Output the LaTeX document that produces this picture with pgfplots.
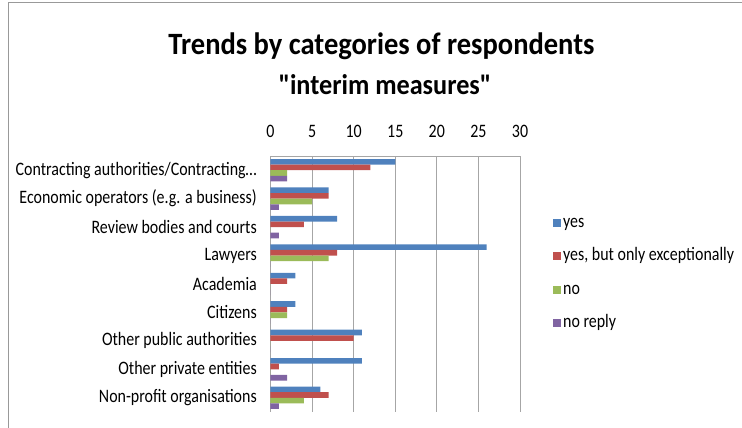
\documentclass[border=0pt]{standalone}
\usepackage{fontspec}
\setmainfont{Carlito}[FakeStretch=0.84]
\newfontfamily\titlefont{Carlito}[FakeStretch=0.92]
\usepackage{pgfplots}
\pgfplotsset{compat=1.18}

\definecolor{cyes}{HTML}{4F81BD}
\definecolor{cexc}{HTML}{C0504D}
\definecolor{cno}{HTML}{9BBB59}
\definecolor{cnorep}{HTML}{8064A2}
\definecolor{gridgray}{HTML}{A6A6A6}

\begin{document}
\begin{tikzpicture}[x=1pt,y=1pt]
  \useasboundingbox (0,0) rectangle (742,-428);
  % chart frame
  \draw[gray!80, line width=1pt] (8.5,-428) -- (8.5,-2.5) -- (742,-2.5);

  \node[anchor=base, font=\titlefont\bfseries\fontsize{31}{33}\selectfont] at (381.5,-55) {Trends by categories of respondents};
  \node[anchor=base, font=\titlefont\bfseries\fontsize{28.5}{30}\selectfont] at (385,-95) {\symbol{34}interim measures\symbol{34}};

  \begin{axis}[
    at={(270.5pt,-156pt)}, anchor=north west,
    scale only axis,
    width=249.5pt, height=256pt,
    xbar, bar width=5.6pt,
    xmin=0, xmax=30,
    ymin=-0.5, ymax=8.5,
    axis x line*=top,
    axis y line*=left,
    axis line style={gridgray, line width=1pt},
    xtick={0,5,10,15,20,25,30},
    ytick={0,1,2,3,4,5,6,7,8},
    yticklabels={Non-profit organisations, Other private entities, Other public authorities, Citizens, Academia, Lawyers, Review bodies and courts, Economic operators (e.g. a business), {Contracting authorities/Contracting\ldots}},
    major tick length=0pt,
    xmajorgrids,
    grid style={gridgray, line width=1pt},
    /pgf/number format/assume math mode=true,
    tick label style={font=\fontsize{19}{21}\selectfont, inner sep=0pt},
    xticklabel style={anchor=south},
    xticklabel shift=18pt,
    yticklabel style={anchor=east},
    yticklabel shift=13.5pt,
    legend style={draw=none, fill=none, at={(1.132,0.543)}, anchor=west,
      inner sep=0pt, row sep=12.6pt,
      nodes={text height=13pt, text depth=4pt},
      font=\fontsize{19}{21}\selectfont, legend cell align=left},
    legend image code/.code={\fill[#1] (0pt,-4pt) rectangle (8pt,4pt);},
  ]
  \addplot[fill=cyes, draw=none, bar shift=8.4pt] coordinates {
    (6,0) (11,1) (11,2) (3,3) (3,4) (26,5) (8,6) (7,7) (15,8)};
  \addlegendentry{yes}
  \addplot[fill=cexc, draw=none, bar shift=2.8pt] coordinates {
    (7,0) (1,1) (10,2) (2,3) (2,4) (8,5) (4,6) (7,7) (12,8)};
  \addlegendentry{yes, but only exceptionally}
  \addplot[fill=cno, draw=none, bar shift=-2.8pt] coordinates {
    (4,0) (0,1) (0,2) (2,3) (0,4) (7,5) (0,6) (5,7) (2,8)};
  \addlegendentry{no}
  \addplot[fill=cnorep, draw=none, bar shift=-8.4pt] coordinates {
    (1,0) (2,1) (0,2) (0,3) (0,4) (0,5) (1,6) (1,7) (2,8)};
  \addlegendentry{no reply}
  \end{axis}
\end{tikzpicture}
\end{document}
